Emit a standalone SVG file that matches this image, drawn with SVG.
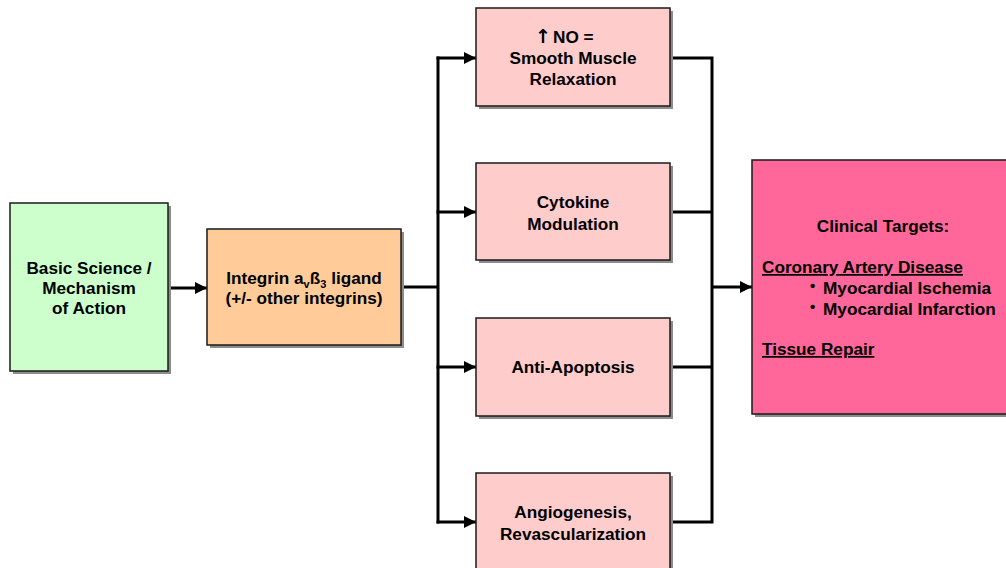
<svg xmlns="http://www.w3.org/2000/svg" width="1006" height="568" viewBox="0 0 1006 568">
<defs>
<marker id="ah" viewBox="0 0 10 10" refX="10" refY="5" markerWidth="4" markerHeight="4" orient="auto" markerUnits="strokeWidth">
<path d="M0,0 L10,5 L0,10 z" fill="#000"/>
</marker>
</defs>
<style>
.sh{fill:#8c8c8c}
.bx{stroke:#1a1a1a;stroke-width:1.5}
.t{font-family:"Liberation Sans",Arial,sans-serif;font-weight:bold;font-size:17.2px;fill:#000}
.c{text-anchor:middle}
.ln{fill:none;stroke:#000;stroke-width:3}
.ar{fill:none;stroke:#000;stroke-width:3;marker-end:url(#ah)}
</style>
<rect width="1006" height="568" fill="#fff"/>
<g id="connectors">
<line class="ar" x1="168" y1="288" x2="207" y2="288"/>
<line class="ln" x1="401" y1="287" x2="438" y2="287"/>
<line class="ln" x1="438" y1="56.5" x2="438" y2="523.5"/>
<line class="ar" x1="436.5" y1="58" x2="476" y2="58"/>
<line class="ar" x1="436.5" y1="212" x2="476" y2="212"/>
<line class="ar" x1="436.5" y1="367" x2="476" y2="367"/>
<line class="ar" x1="436.5" y1="522" x2="476" y2="522"/>
<polyline class="ln" points="670,58 712,58 712,522 670,522"/>
<line class="ln" x1="670" y1="212" x2="712" y2="212"/>
<line class="ln" x1="670" y1="367" x2="712" y2="367"/>
<line class="ar" x1="712" y1="287" x2="752" y2="287"/>
</g>
<g id="basic">
<rect class="sh" x="13" y="206" width="158" height="168"/>
<rect class="bx" x="10" y="203" width="158" height="168" fill="#ccffcc"/>
<text class="t c" x="89" y="274">Basic Science /</text>
<text class="t c" x="89" y="294">Mechanism</text>
<text class="t c" x="89" y="314">of Action</text>
</g>
<g id="integrin">
<rect class="sh" x="210" y="232" width="194" height="116"/>
<rect class="bx" x="207" y="229" width="194" height="116" fill="#ffcc99"/>
<text class="t c" x="304" y="284">Integrin a<tspan font-size="11" dy="4">v</tspan><tspan dy="-4">ß</tspan><tspan font-size="11" dy="4">3</tspan><tspan dy="-4"> ligand</tspan></text>
<text class="t c" x="304" y="304">(+/- other integrins)</text>
</g>
<g id="no">
<rect class="sh" x="479" y="11" width="194" height="98"/>
<rect class="bx" x="476" y="8" width="194" height="98" fill="#ffcccc"/>
<text class="t" x="535" y="43"><tspan font-family="'DejaVu Sans',sans-serif" font-weight="bold" font-size="19">↑</tspan><tspan x="553">NO =</tspan></text>
<text class="t c" x="573" y="64">Smooth Muscle</text>
<text class="t c" x="573" y="85">Relaxation</text>
</g>
<g id="cytokine">
<rect class="sh" x="479" y="166" width="194" height="97"/>
<rect class="bx" x="476" y="163" width="194" height="97" fill="#ffcccc"/>
<text class="t c" x="573" y="208">Cytokine</text>
<text class="t c" x="573" y="230">Modulation</text>
</g>
<g id="apoptosis">
<rect class="sh" x="479" y="321" width="194" height="98"/>
<rect class="bx" x="476" y="318" width="194" height="98" fill="#ffcccc"/>
<text class="t c" x="573" y="373">Anti-Apoptosis</text>
</g>
<g id="angio">
<rect class="sh" x="479" y="476" width="194" height="98"/>
<rect class="bx" x="476" y="473" width="194" height="98" fill="#ffcccc"/>
<text class="t c" x="573" y="518">Angiogenesis,</text>
<text class="t c" x="573" y="540">Revascularization</text>
</g>
<g id="clinical">
<rect class="sh" x="755" y="163" width="256" height="254"/>
<rect class="bx" x="752" y="160" width="256" height="254" fill="#ff6699"/>
<text class="t c" x="883" y="232">Clinical Targets:</text>
<text class="t" x="762" y="273" text-decoration="underline">Coronary Artery Disease</text>
<text class="t" x="810" y="294"><tspan font-size="15" dy="-3">•</tspan><tspan x="823" dy="3">Myocardial Ischemia</tspan></text>
<text class="t" x="810" y="315"><tspan font-size="15" dy="-3">•</tspan><tspan x="823" dy="3">Myocardial Infarction</tspan></text>
<text class="t" x="762" y="355" text-decoration="underline">Tissue Repair</text>
</g>
</svg>
